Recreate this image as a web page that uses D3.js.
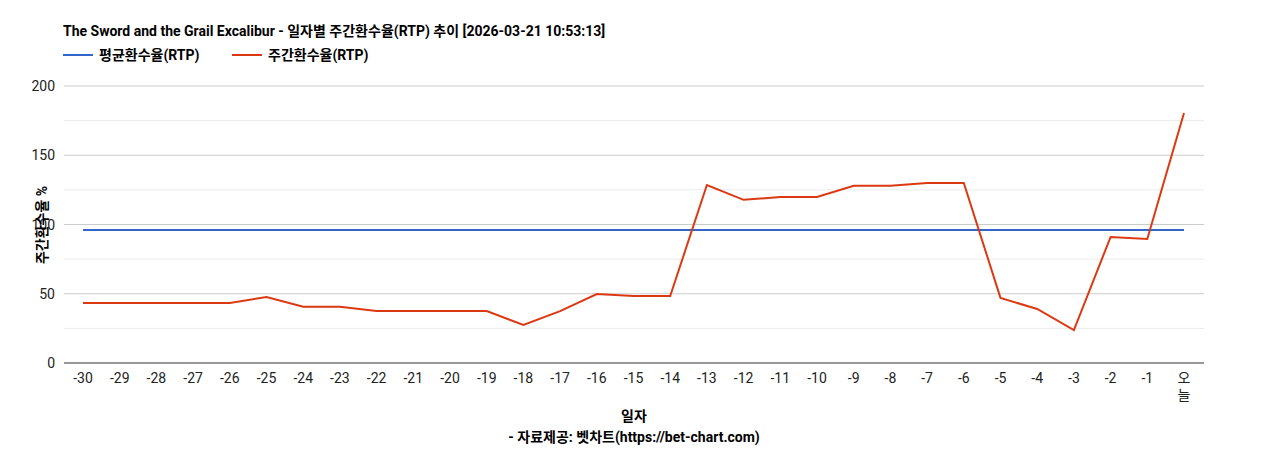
<!DOCTYPE html>
<html><head><meta charset="utf-8">
<script src="https://cdn.jsdelivr.net/npm/d3@7"></script>
<style>body{margin:0;background:#fff;font-family:Roboto,"Noto Sans CJK KR",sans-serif}</style>
</head><body><svg id="c" width="1268" height="450"></svg>
<script>
const categories=["-30","-29","-28","-27","-26","-25","-24","-23","-22","-21","-20","-19","-18","-17","-16","-15","-14","-13","-12","-11","-10","-9","-8","-7","-6","-5","-4","-3","-2","-1","오늘"];
const weeklyRTP=[43.3,43.3,43.3,43.3,43.3,47.6,40.6,40.6,37.5,37.5,37.5,37.5,27.5,37.5,49.8,48.4,48.4,128.5,117.8,119.9,119.9,127.9,127.9,130,130,47,39,23.8,91,89.5,180.5];
const avgRTP=categories.map(()=>96);
const yTicks=[0,50,100,150,200];
const minorTicks=[25,75,125,175];
const title="The Sword and the Grail Excalibur - 일자별 주간환수율(RTP) 추이 [2026-03-21 10:53:13]";

const svg=d3.select("#c");
const f='Roboto,"Noto Sans CJK KR",sans-serif';
const L=64,R=1204,T=86,B=363;
const x=d3.scalePoint().domain(categories).range([83,1184]);
const y=d3.scaleLinear().domain([0,200]).range([B,T]);
svg.append("text").attr("x",63).attr("y",36).attr("font-size",14).attr("font-weight","bold").attr("font-family",f).text(title);
// legend
const lg=[["평균환수율(RTP)","#3366cc",63],["주간환수율(RTP)","#dc3912",232]];
lg.forEach(([t,c,lx])=>{svg.append("line").attr("x1",lx).attr("x2",lx+30).attr("y1",55).attr("y2",55).attr("stroke",c).attr("stroke-width",2);
svg.append("text").attr("x",lx+36).attr("y",60).attr("font-size",14).attr("font-weight","bold").attr("font-family",f).text(t);});
svg.selectAll(".mn").data(minorTicks).join("line").attr("x1",L).attr("x2",R).attr("y1",d=>y(d)).attr("y2",d=>y(d)).attr("stroke","#ebebeb");
svg.selectAll(".mj").data(yTicks.slice(1)).join("line").attr("x1",L).attr("x2",R).attr("y1",d=>y(d)).attr("y2",d=>y(d)).attr("stroke","#cccccc");
svg.append("line").attr("x1",L).attr("x2",R).attr("y1",B).attr("y2",B).attr("stroke","#333");
svg.selectAll(".yt").data(yTicks).join("text").attr("x",55).attr("y",d=>y(d)+5).attr("text-anchor","end").attr("font-size",14).attr("font-family",f).attr("fill","#222").text(d=>d);
categories.forEach(c=>{
  if(c==="오늘"){["오","늘"].forEach((ch,i)=>svg.append("text").attr("x",x(c)).attr("y",383+i*17).attr("text-anchor","middle").attr("font-size",14).attr("font-family",f).attr("fill","#222").text(ch));}
  else svg.append("text").attr("x",x(c)).attr("y",383).attr("text-anchor","middle").attr("font-size",14).attr("font-family",f).attr("fill","#222").text(c);
});
const line=d3.line().x((d,i)=>x(categories[i])).y(d=>y(d));
svg.append("path").attr("d",line(avgRTP)).attr("fill","none").attr("stroke","#3366cc").attr("stroke-width",2);
svg.append("path").attr("d",line(weeklyRTP)).attr("fill","none").attr("stroke","#dc3912").attr("stroke-width",2);
svg.append("text").attr("transform","translate(47,225) rotate(-90)").attr("text-anchor","middle").attr("font-size",14).attr("font-weight","bold").attr("font-family",f).text("주간환수율 %");
svg.append("text").attr("x",634).attr("y",421).attr("text-anchor","middle").attr("font-size",14).attr("font-weight","bold").attr("font-family",f).text("일자");
svg.append("text").attr("x",634).attr("y",442).attr("text-anchor","middle").attr("font-size",14).attr("font-weight","bold").attr("font-family",f).text("- 자료제공: 벳차트(https://bet-chart.com)");
</script></body></html>
